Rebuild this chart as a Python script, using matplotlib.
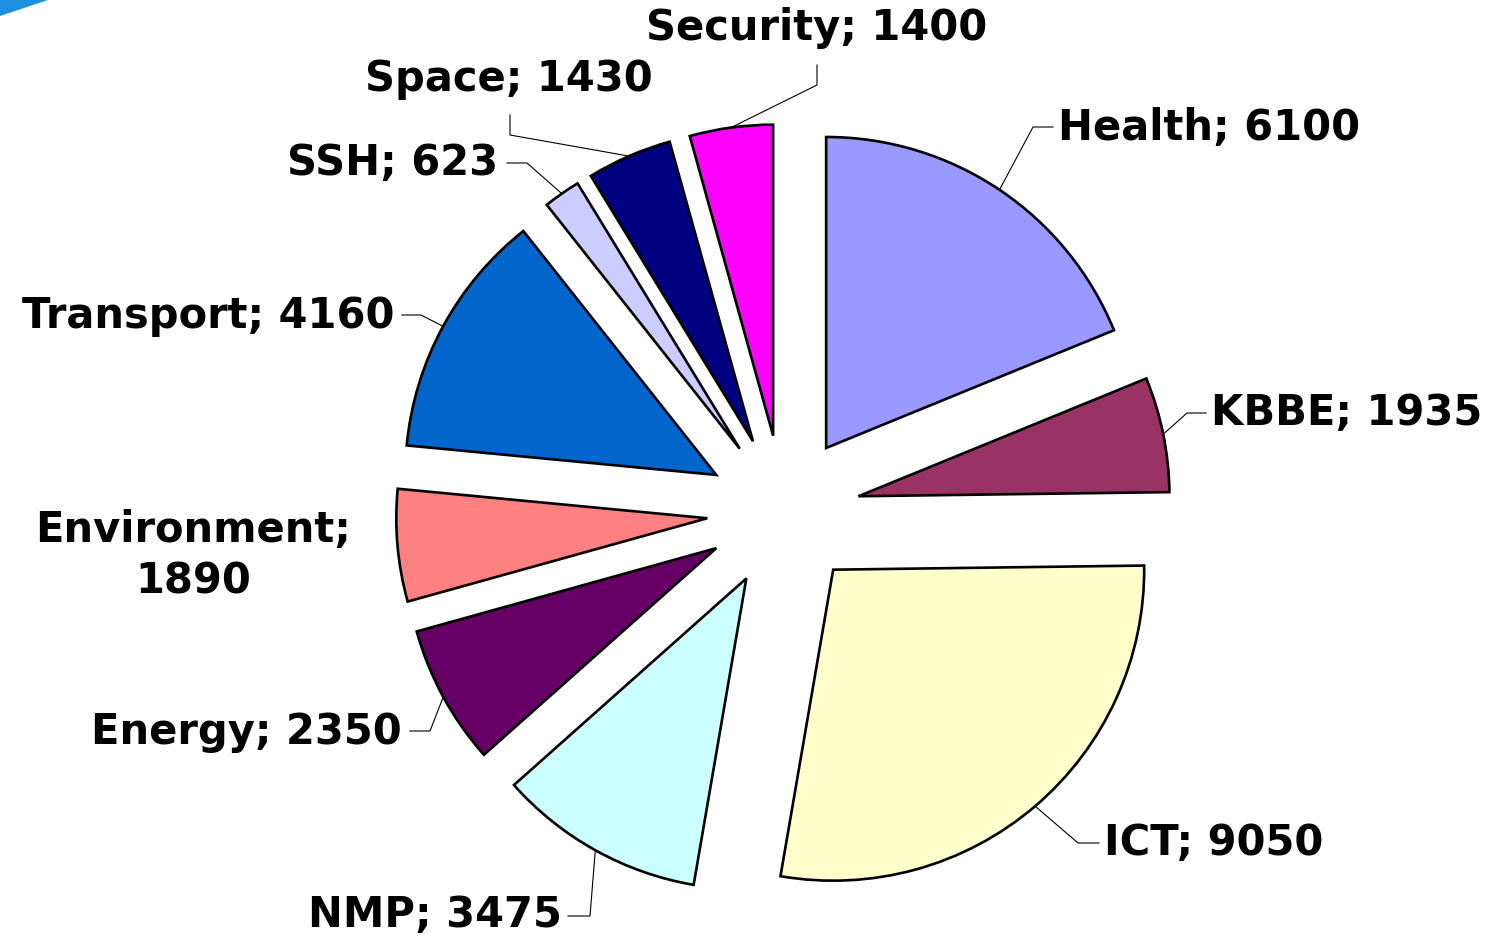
import numpy as np
import matplotlib as mpl
mpl.use('Agg')
import matplotlib.pyplot as plt
from matplotlib.patches import Polygon

# budget per theme (clockwise from top)
themes = ["Health", "KBBE", "ICT", "NMP", "Energy", "Environment",
          "Transport", "SSH", "Space", "Security"]
values = [6100, 1935, 9050, 3475, 2350, 1890, 4160, 623, 1430, 1400]
colors = ["#9999FF", "#993366", "#FFFFCC", "#CCFFFF", "#660066",
          "#FF8080", "#0066CC", "#CCCCFF", "#000080", "#FF00FF"]

W, H = 1494, 941
fig = plt.figure(figsize=(W / 100, H / 100), dpi=100)
ax = fig.add_axes([0, 0, 1, 1])

R = 311
cx, cy = 783.5, H - 511.5
wedges, _ = ax.pie(values, colors=colors, startangle=90, counterclock=False,
                   explode=[76.5] * len(values), radius=R, center=(cx, cy),
                   wedgeprops=dict(edgecolor="black", linewidth=1.9))

# label layout in pixel coords (x, y from top), alignment, leader start, elbow
layout = {
    "Health":      ((1058, 128), "left",   (1053, 127), (1033, 127)),
    "KBBE":        ((1211, 413), "left",   (1206, 413), (1187, 413)),
    "ICT":         ((1104, 843), "left",   (1099, 843), (1078, 843)),
    "NMP":         ((562, 915),  "right",  (568, 916),  (590, 916)),
    "Energy":      ((402, 732),  "right",  (410, 731),  (430, 731)),
    "Environment": ((193, 556),  "center", None, None),
    "Transport":   ((395, 316),  "right",  (402, 315),  (421, 315)),
    "SSH":         ((498, 163),  "right",  (507, 163),  (527, 163)),
    "Space":       ((509, 79),   "center", (510, 115),  (510, 135)),
    "Security":    ((817, 28),   "center", (817, 65),   (817, 85)),
}

for w, name, v in zip(wedges, themes, values):
    (tx, ty), ha, start, elbow = layout[name]
    txt = "{0}; {1}".format(name, v)
    if name == "Environment":
        txt = "{0};\n{1}".format(name, v)
    ax.text(tx, H - ty, txt, ha=ha, va="center", fontsize=30,
            fontweight="bold", family="DejaVu Sans", linespacing=1.3)
    if start is None:
        continue
    # point on the arc at the wedge bisector
    mid = np.deg2rad((w.theta1 + w.theta2) / 2)
    px = w.center[0] + R * np.cos(mid)
    py = w.center[1] + R * np.sin(mid)
    ax.plot([start[0], elbow[0], px], [H - start[1], H - elbow[1], py],
            color="black", lw=0.8)

# bit of the slide decoration in the corner
ax.add_patch(Polygon([(0, H), (48, H), (0, H - 16)], closed=True,
                     color="#1E90E0", lw=0))

ax.set_xlim(0, W)
ax.set_ylim(0, H)
ax.axis("off")
fig.savefig("out.png", dpi=100)
